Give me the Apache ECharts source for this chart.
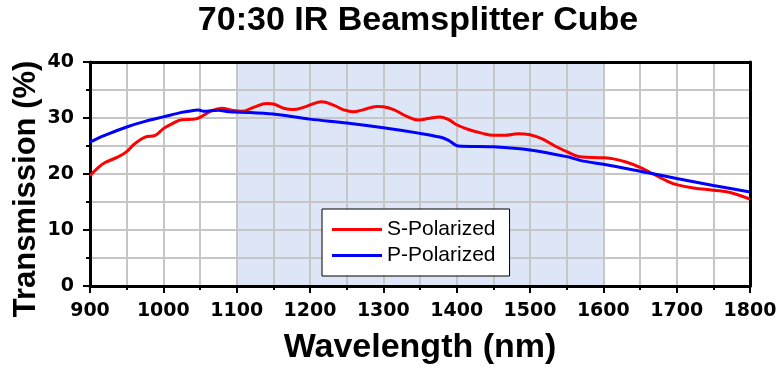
<!DOCTYPE html>
<html><head><meta charset="utf-8">
<script src="https://cdn.jsdelivr.net/npm/echarts@6/dist/echarts.min.js"></script>
<style>html,body{margin:0;padding:0;background:#fff}#c{width:780px;height:370px}</style>
</head><body><div id="c"></div>
<script>
const titleText = "70:30 IR Beamsplitter Cube";
const xName = "Wavelength (nm)";
const yName = "Transmission (%)";
const seriesNames = ["S-Polarized", "P-Polarized"];
const shadeRange = [1100, 1600];

const sWavelength = [900,910,920,939,950,961,975,989,1000,1011,1025,1043,1050,1066,1080,1093,1107,1123,1141,1150,1164,1177,1191,1209,1216,1232,1245,1259,1273,1291,1300,1314,1332,1348,1361,1377,1389,1400,1416,1434,1450,1466,1484,1500,1516,1534,1550,1568,1600,1614,1632,1650,1668,1686,1700,1723,1750,1773,1800];
const sValues = [19.7,21.0,22.0,23.1,24.0,25.4,26.6,26.9,28.1,28.9,29.7,29.8,30.1,31.3,31.75,31.4,31.2,31.9,32.6,32.5,31.75,31.5,31.9,32.75,32.9,32.3,31.5,31.1,31.5,32.05,32.0,31.5,30.3,29.65,29.9,30.2,29.7,28.8,27.95,27.3,26.9,26.9,27.2,27.0,26.3,25.0,24.0,23.1,22.9,22.7,22.1,21.2,20.0,18.8,18.1,17.5,17.1,16.7,15.5];

const pWavelength = [900,920,950,975,1000,1025,1043,1048,1055,1075,1089,1118,1150,1200,1250,1300,1348,1377,1389,1402,1450,1500,1550,1573,1600,1650,1700,1750,1800];
const pValues = [25.7,26.9,28.4,29.4,30.2,31.0,31.4,31.45,31.2,31.4,31.1,31.0,30.7,29.8,29.1,28.25,27.3,26.6,26.0,25.0,24.85,24.3,23.1,22.3,21.75,20.5,19.2,17.95,16.8];

const F = "Liberation Sans, Arial, sans-serif";
const FT = "DejaVu Sans, sans-serif";
const pair = (xs, ys) => xs.map((x, i) => [x, ys[i]]);
const tickStyle = {fontFamily: FT, fontWeight: 'bold', fontSize: 19, color: '#000'};
const gridLine = {show: true, lineStyle: {color: '#c6c6c6', width: 2}};

const chart = echarts.init(document.getElementById('c'), null, {renderer: 'canvas'});
chart.setOption({
  backgroundColor: '#fff',
  animation: false,
  graphic: [
    {type: 'text', x: 418, y: 21, z: 10,
      style: {text: titleText, font: 'bold 34px ' + F, fill: '#000', textAlign: 'center', textVerticalAlign: 'middle'}},
    {type: 'text', x: 26, y: 189, rotation: Math.PI / 2, z: 10,
      style: {text: yName, font: 'bold 31px ' + F, fill: '#000', textAlign: 'center', textVerticalAlign: 'middle'}}
  ],
  grid: {left: 90, right: 30, top: 62, bottom: 80},
  legend: {
    orient: 'vertical', left: 322, top: 209,
    padding: [10, 14, 10, 10], itemGap: 5,
    backgroundColor: '#fff', borderColor: '#000', borderWidth: 1, borderRadius: 0,
    itemWidth: 50, itemHeight: 3, icon: 'rect',
    textStyle: {fontFamily: F, fontSize: 21, color: '#000', lineHeight: 20},
    data: seriesNames
  },
  xAxis: [{
    type: 'value', min: 900, max: 1800, interval: 100,
    name: xName, nameLocation: 'middle', nameGap: 45,
    nameTextStyle: {fontFamily: F, fontWeight: 'bold', fontSize: 34, color: '#000'},
    axisLine: {show: true, onZero: false, lineStyle: {color: '#000', width: 3}},
    axisTick: {show: true, inside: false, length: 7, lineStyle: {color: '#000', width: 2}},
    minorTick: {show: true, splitNumber: 2, length: 4, lineStyle: {color: '#000', width: 2}},
    axisLabel: Object.assign({margin: 16, formatter: v => String(v)}, tickStyle),
    splitLine: gridLine, minorSplitLine: gridLine,
    z: 2
  }, {
    type: 'value', min: 900, max: 1800, interval: 100, position: 'top',
    axisLine: {show: true, onZero: false, lineStyle: {color: '#000', width: 3}},
    axisTick: {show: false}, axisLabel: {show: false}, splitLine: {show: false}, z: 2
  }],
  yAxis: [{
    type: 'value', min: 0, max: 40, interval: 10,
    axisLine: {show: true, onZero: false, lineStyle: {color: '#000', width: 3}},
    axisTick: {show: true, inside: false, length: 7, lineStyle: {color: '#000', width: 2}},
    minorTick: {show: true, splitNumber: 2, length: 4, lineStyle: {color: '#000', width: 2}},
    axisLabel: Object.assign({margin: 16}, tickStyle),
    splitLine: gridLine, minorSplitLine: gridLine,
    z: 2
  }, {
    type: 'value', min: 0, max: 40, interval: 10, position: 'right',
    axisLine: {show: true, onZero: false, lineStyle: {color: '#000', width: 3}},
    axisTick: {show: false}, axisLabel: {show: false}, splitLine: {show: false}, z: 2
  }],
  series: [
    {type: 'line', name: '_shade', data: [], z: 1, silent: true,
      markArea: {silent: true, z: 1, itemStyle: {color: '#dce6f6'}, data: [[{xAxis: shadeRange[0]}, {xAxis: shadeRange[1]}]]}},
    {type: 'line', name: seriesNames[0], data: pair(sWavelength, sValues), smooth: 0.4, showSymbol: false, z: 3,
      lineStyle: {color: '#ff0000', width: 3}, itemStyle: {color: '#ff0000'}},
    {type: 'line', name: seriesNames[1], data: pair(pWavelength, pValues), smooth: 0.3, showSymbol: false, z: 3,
      lineStyle: {color: '#0000ff', width: 3}, itemStyle: {color: '#0000ff'}}
  ]
});
</script></body></html>
